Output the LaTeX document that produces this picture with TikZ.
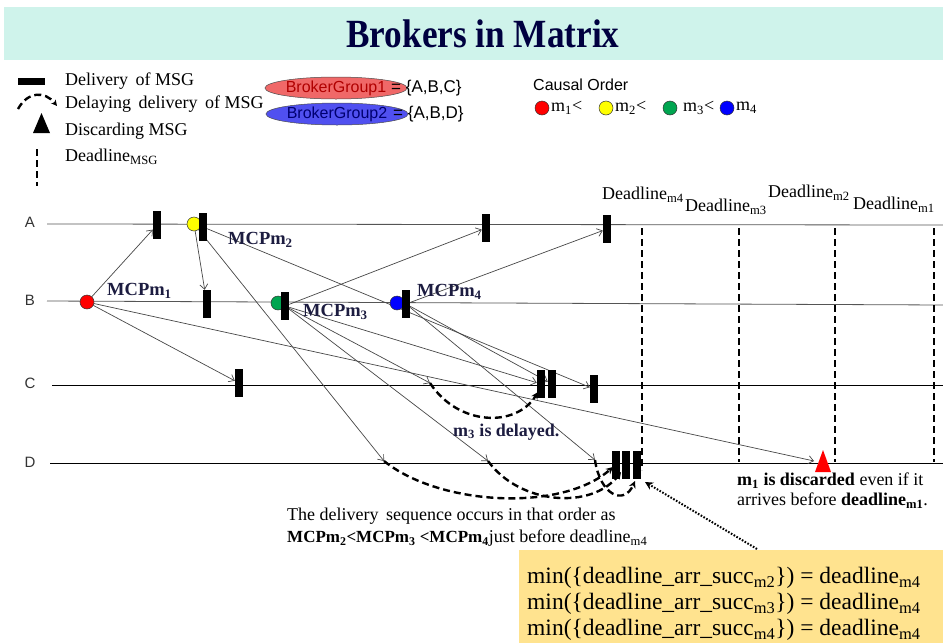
\documentclass[tikz,border=0pt]{standalone}
\usepackage{graphicx}
\usepackage{fontspec}
\setmainfont{Liberation Serif}
\setsansfont{Liberation Sans}
\usetikzlibrary{arrows.meta,shapes.geometric,backgrounds}
\definecolor{titlebg}{HTML}{CFF3EB}
\definecolor{titlefg}{HTML}{000040}
\definecolor{boxbg}{HTML}{FFE38F}
\definecolor{mred}{HTML}{FF0000}
\definecolor{myel}{HTML}{FFFF00}
\definecolor{mgreen}{HTML}{00A550}
\definecolor{mblue}{HTML}{0000FF}
\definecolor{ellred}{HTML}{F06868}
\definecolor{ellblue}{HTML}{5050F0}
\definecolor{txtred}{HTML}{B00000}
\definecolor{txtnavy}{HTML}{000070}
\definecolor{lbl}{HTML}{1C1C40}
\definecolor{linegray}{HTML}{555555}
\newcommand{\myfs}[2]{\fontsize{#1}{#2}\selectfont}
\tikzset{
  lanel/.style={draw=linegray, line width=0.8pt},
  msg/.style={draw=black!72, line width=0.7pt, -{Straight Barb[length=5pt,width=8pt]}},
  bar/.style={rectangle, fill=black, minimum width=8pt, minimum height=28pt, inner sep=0pt},
  sender/.style={circle, draw=black!80, line width=0.5pt, minimum size=14pt, inner sep=0pt},
  delay/.style={line width=2.4pt, dash pattern=on 7pt off 4pt, -{Stealth[length=7pt,width=7pt]}},
  ddl/.style={line width=2.4pt, dash pattern=on 7pt off 4pt},
  lgd/.style={anchor=west, inner sep=0pt, font=\myfs{18}{20}},
  ddlab/.style={anchor=west, inner sep=0pt, font=\myfs{18}{20}, text=black},
  mcp/.style={anchor=west, inner sep=0pt, font=\myfs{18.5}{20}\bfseries, text=lbl},
  lanelbl/.style={anchor=center, inner sep=0pt, font=\sffamily\myfs{15}{17}, text=black!80},
  sans/.style={anchor=west, inner sep=0pt, font=\sffamily\myfs{16}{18}},
  boxtxt/.style={anchor=west, inner sep=0pt, font=\myfs{23.5}{26}},
}
\begin{document}
\begin{tikzpicture}[x=1pt,y=-1pt]
\useasboundingbox (0,0) rectangle (943,643);

% ---------- title ----------
\node[font=\myfs{40}{44}\bfseries, text=titlefg] (title) at (483,34) {\scalebox{0.88}[1]{Brokers in Matrix}};

% ---------- legend ----------
\fill (18,78) rectangle (45,85);
\node[lgd] (l1) at (65,81) {Delivery\, of MSG};
\node[lgd] (l2) at (65,104) {Delaying\, delivery\, of MSG};
\node[lgd] (l3) at (65,131) {Discarding MSG};
\node[lgd] (l4) at (65,157) {Deadline\textsubscript{MSG}};
\fill (33,133) -- (50,133) -- (41.5,113) -- cycle;
\draw[ddl] (37,149) -- (37,186);

\node[ellipse, draw=black!70, line width=0.5pt, fill=ellred, minimum width=114pt, minimum height=22pt, inner sep=0pt, font=\sffamily\myfs{16}{18}, text=txtred] (bg1) at (336,88) {BrokerGroup1};
\node[ellipse, draw=black!70, line width=0.5pt, fill=ellblue, minimum width=120pt, minimum height=22pt, inner sep=0pt, font=\sffamily\myfs{16}{18}, text=txtnavy] (bg2) at (337,114) {BrokerGroup2};
\node[sans, font=\sffamily\myfs{17}{19}] (set1) at (391,88) {= \{A,B,C\}};
\node[sans, font=\sffamily\myfs{17}{19}] (set2) at (393,114) {= \{A,B,D\}};

\node[sans] (causal) at (533,85) {Causal Order};
\node[sender, fill=mred] (co1) at (542,108) {};
\node[sender, fill=myel] (co2) at (606,108) {};
\node[sender, fill=mgreen] (co3) at (670,108) {};
\node[sender, fill=mblue] (co4) at (727,108) {};
\node[lgd] (cm1) at (551,108) {m\textsubscript{1}<};
\node[lgd] (cm2) at (615,108) {m\textsubscript{2}<};
\node[lgd] (cm3) at (683,108) {m\textsubscript{3}<};
\node[lgd] (cm4) at (736,108) {m\textsubscript{4}};

% ---------- lane labels ----------
\node[lanelbl] (LA) at (30,222) {A};
\node[lanelbl] (LB) at (30,300) {B};
\node[lanelbl] (LC) at (30,383) {C};
\node[lanelbl] (LD) at (30,462) {D};

% ---------- deadline labels ----------
\node[ddlab] (dl4) at (602,195) {Deadline\textsubscript{m4}};
\node[ddlab] (dl3) at (685,207) {Deadline\textsubscript{m3}};
\node[ddlab] (dl2) at (768,193) {Deadline\textsubscript{m2}};
\node[ddlab] (dl1) at (853,205) {Deadline\textsubscript{m1}};

% ---------- senders ----------
\node[sender, fill=mred] (R) at (87,302) {};
\node[sender, fill=myel] (Y) at (194,224) {};
\node[sender, fill=mgreen] (G) at (278,303) {};
\node[sender, fill=mblue] (Bl) at (397,303) {};

% ---------- delivery bars ----------
\node[bar] (a1) at (157,225) {};
\node[bar] (a2) at (203,227) {};
\node[bar] (a3) at (486,228) {};
\node[bar] (a4) at (607,229) {};
\node[bar] (b1) at (207,304) {};
\node[bar] (b2) at (285,306) {};
\node[bar] (b3) at (406,304) {};
\node[bar] (c1) at (239,383) {};
\node[bar] (c2) at (541,384) {};
\node[bar] (c3) at (552,384) {};
\node[bar] (c4) at (594,389) {};
\node[bar] (d1) at (616,465) {};
\node[bar] (d2) at (626,465) {};
\node[bar] (d3) at (637,465) {};

% discarded
\fill[mred] (815,472) -- (831,472) -- (823,450) -- cycle;

% arrival points
\coordinate (triArr) at (814,461);
\coordinate (dY) at (384,461);
\coordinate (cG) at (430,383);
\coordinate (dG) at (488,461);
\coordinate (dB) at (595,460);
\coordinate (c2in) at (538,392);
\coordinate (dEa) at (613,467);
\coordinate (dEb) at (621,472);
\coordinate (dEc) at (635,481);
\coordinate (boxtop) at (757,549);
\coordinate (dotEnd) at (645,482);

% ---------- labels ----------
\node[mcp] (mcp1) at (107,291) {MCPm\textsubscript{1}};
\node[mcp] (mcp2) at (228,240) {MCPm\textsubscript{2}};
\node[mcp] (mcp3) at (303,312) {MCPm\textsubscript{3}};
\node[mcp] (mcp4) at (417,292) {MCPm\textsubscript{4}};
\node[anchor=west, inner sep=0pt, font=\myfs{18}{20}\bfseries, text=lbl] (delayed) at (453,432) {m\textsubscript{3} is delayed.};
\node[anchor=north west, inner sep=0pt, align=left, font=\myfs{18}{22}] (seq) at (287,508)
  {The delivery\, sequence occurs in that order as\\
   {\myfs{17}{22}\bfseries MCPm\textsubscript{2}<MCPm\textsubscript{3} <MCPm\textsubscript{4}}just before deadline\textsubscript{m4}};
\node[anchor=north west, inner sep=0pt, align=left, font=\myfs{18}{20}] (disc) at (737,473)
  {\textbf{m\textsubscript{1} is discarded} even if it\\
   arrives before \textbf{deadline\textsubscript{m1}}.};

% ---------- formula box ----------
\node[boxtxt] (bx1) at (527,578) {min(\{deadline\_arr\_succ\textsubscript{m2}\}) = deadline\textsubscript{m4}};
\node[boxtxt] (bx2) at (527,604) {min(\{deadline\_arr\_succ\textsubscript{m3}\}) = deadline\textsubscript{m4}};
\node[boxtxt] (bx3) at (527,630) {min(\{deadline\_arr\_succ\textsubscript{m4}\}) = deadline\textsubscript{m4}};

\begin{pgfonlayer}{background}
  \fill[titlebg] (4,7) rectangle (943,60);
  \fill[boxbg] (519,550) rectangle (943,643);
  % legend delay arc
  \draw[delay, -{Stealth[length=6pt,width=6pt]}] (18,109) .. controls (28,91) and (45,91) .. (57,106);
  % lanes
  \draw[lanel] (47,224) -- (943,225);
  \draw[lanel] (47,301) -- (943,305);
  \draw[draw=black, line width=0.8pt] (52,385) -- (943,385);
  \draw[draw=black, line width=0.8pt] (50,463) -- (943,463);
  % deadlines
  \draw[ddl] (642,228) -- (642,470);
  \draw[ddl] (739,228) -- (739,462);
  \draw[ddl] (835,228) -- (835,462);
  \draw[ddl] (934,228) -- (934,462);
  % messages
  \draw[msg] (R) -- (a1);
  \draw[msg] (R) -- (c1);
  \draw[msg] (R) -- (triArr);
  \draw[msg] (Y) -- (b1);
  \draw[msg] (Y) -- (dY);
  \draw[msg] (a2) -- (c4);
  \draw[msg] (b2) -- (a3);
  \draw[msg] (b2) -- (cG);
  \draw[msg] (b2) -- (c2);
  \draw[msg] (b2) -- (dG);
  \draw[msg] (b3) -- (a4);
  \draw[msg] (b3) -- (c3);
  \draw[msg] (b3) -- (dB);
  % delays
  \draw[delay] (cG) .. controls (458,426) and (516,428) .. (c2in);
  \draw[delay] (dY) .. controls (440,506) and (562,512) .. (dEa);
  \draw[delay] (dG) .. controls (520,505) and (592,510) .. (dEb);
  \draw[delay] (dB) .. controls (600,495) and (624,506) .. (dEc);
  % dotted pointer
  \draw[line width=2pt, dash pattern=on 1.6pt off 1.6pt, -{Stealth[length=8pt,width=8pt]}] (boxtop) -- (dotEnd);
\end{pgfonlayer}
\end{tikzpicture}
\end{document}
